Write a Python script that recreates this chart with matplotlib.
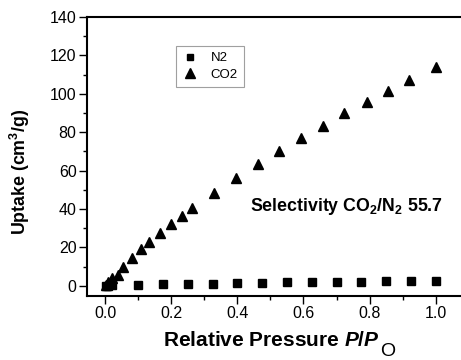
import matplotlib
matplotlib.use("Agg")
import matplotlib.pyplot as plt
from matplotlib.ticker import MultipleLocator

# Data
n2_x = [0.003, 0.01, 0.02, 0.1, 0.175, 0.25, 0.325, 0.4, 0.475, 0.55, 0.625, 0.7, 0.775, 0.85, 0.925, 1.0]
n2_y = [0.05, 0.1, 0.2, 0.5, 0.7, 0.9, 1.1, 1.3, 1.5, 1.7, 1.8, 2.0, 2.1, 2.3, 2.4, 2.6]

co2_x = [0.003, 0.01, 0.02, 0.04, 0.055, 0.08, 0.107, 0.133, 0.166, 0.199, 0.231, 0.263,
         0.328, 0.396, 0.461, 0.527, 0.592, 0.66, 0.723, 0.791, 0.857, 0.92, 1.0]
co2_y = [0.5, 2.0, 3.8, 5.8, 9.7, 14.5, 19.0, 23.0, 27.4, 32.1, 36.5, 40.4,
         48.2, 56.3, 63.3, 70.4, 77.2, 83.3, 89.9, 96.0, 101.5, 107.3, 114.1]

x_ticks = [0.0, 0.2, 0.4, 0.6, 0.8, 1.0]
y_ticks = [0, 20, 40, 60, 80, 100, 120, 140]

plt.rcParams['font.family'] = ['Liberation Sans', 'DejaVu Sans']
plt.rcParams['mathtext.fontset'] = 'custom'
plt.rcParams['mathtext.rm'] = 'Liberation Sans:bold'
plt.rcParams['mathtext.it'] = 'Liberation Sans:bold:italic'
plt.rcParams['mathtext.bf'] = 'Liberation Sans:bold'

fig = plt.figure(figsize=(4.61, 3.60), dpi=100)
ax = fig.add_axes([0.1887, 0.1786, 0.8137, 0.774])

ax.plot(n2_x, n2_y, linestyle='none', marker='s', ms=5.3, color='black', label='N2')
ax.plot(co2_x, co2_y, linestyle='none', marker='^', ms=7.7, color='black', label='CO2')

ax.set_xlim(-0.055, 1.08)
ax.set_ylim(-5.2, 140)
ax.set_xticks(x_ticks)
ax.set_yticks(y_ticks)
ax.xaxis.set_minor_locator(MultipleLocator(0.1))
ax.yaxis.set_minor_locator(MultipleLocator(10))
ax.set_xticklabels([f"{v:.1f}" for v in x_ticks])
ax.set_yticklabels([str(v) for v in y_ticks])

ax.tick_params(which='major', direction='out', length=5.5, width=1.0, labelsize=11.5,
               top=False, right=False, pad=2)
ax.tick_params(which='minor', direction='out', length=3, width=1.0, top=False, right=False)
for s in ['left', 'bottom', 'top']:
    ax.spines[s].set_linewidth(1.5)
ax.spines['right'].set_visible(False)

# x label: main part, followed by a full-size lowered "O"
xl = fig.text(0.588, 0.040, r"Relative Pressure $P/P$", fontsize=15, fontweight='bold',
              ha='center', va='baseline')
fig.canvas.draw()
bb = xl.get_window_extent()
fig.text(bb.x1 / fig.bbox.width + 0.001, 0.012, "O", fontsize=14,
         ha='left', va='baseline')

ax.set_ylabel(r"Uptake (cm$^{\mathbf{3}}$/g)", fontsize=12.8, fontweight='bold')
ax.yaxis.set_label_coords(-0.146, 0.445)

ax.text(0.438, 41.5, r"Selectivity CO$_{\mathbf{2}}$/N$_{\mathbf{2}}$ 55.7", fontsize=12.8,
        fontweight='bold', va='center', ha='left')

leg = ax.legend(loc='upper left', bbox_to_anchor=(0.237, 0.896), borderaxespad=0,
                fontsize=9.5, frameon=True, fancybox=False, handlelength=1.3,
                handletextpad=0.9, borderpad=0.45, labelspacing=0.35, markerscale=0.85)
leg.get_frame().set_edgecolor('#888888')
leg.get_frame().set_linewidth(0.8)

fig.savefig("out.png", dpi=100)
